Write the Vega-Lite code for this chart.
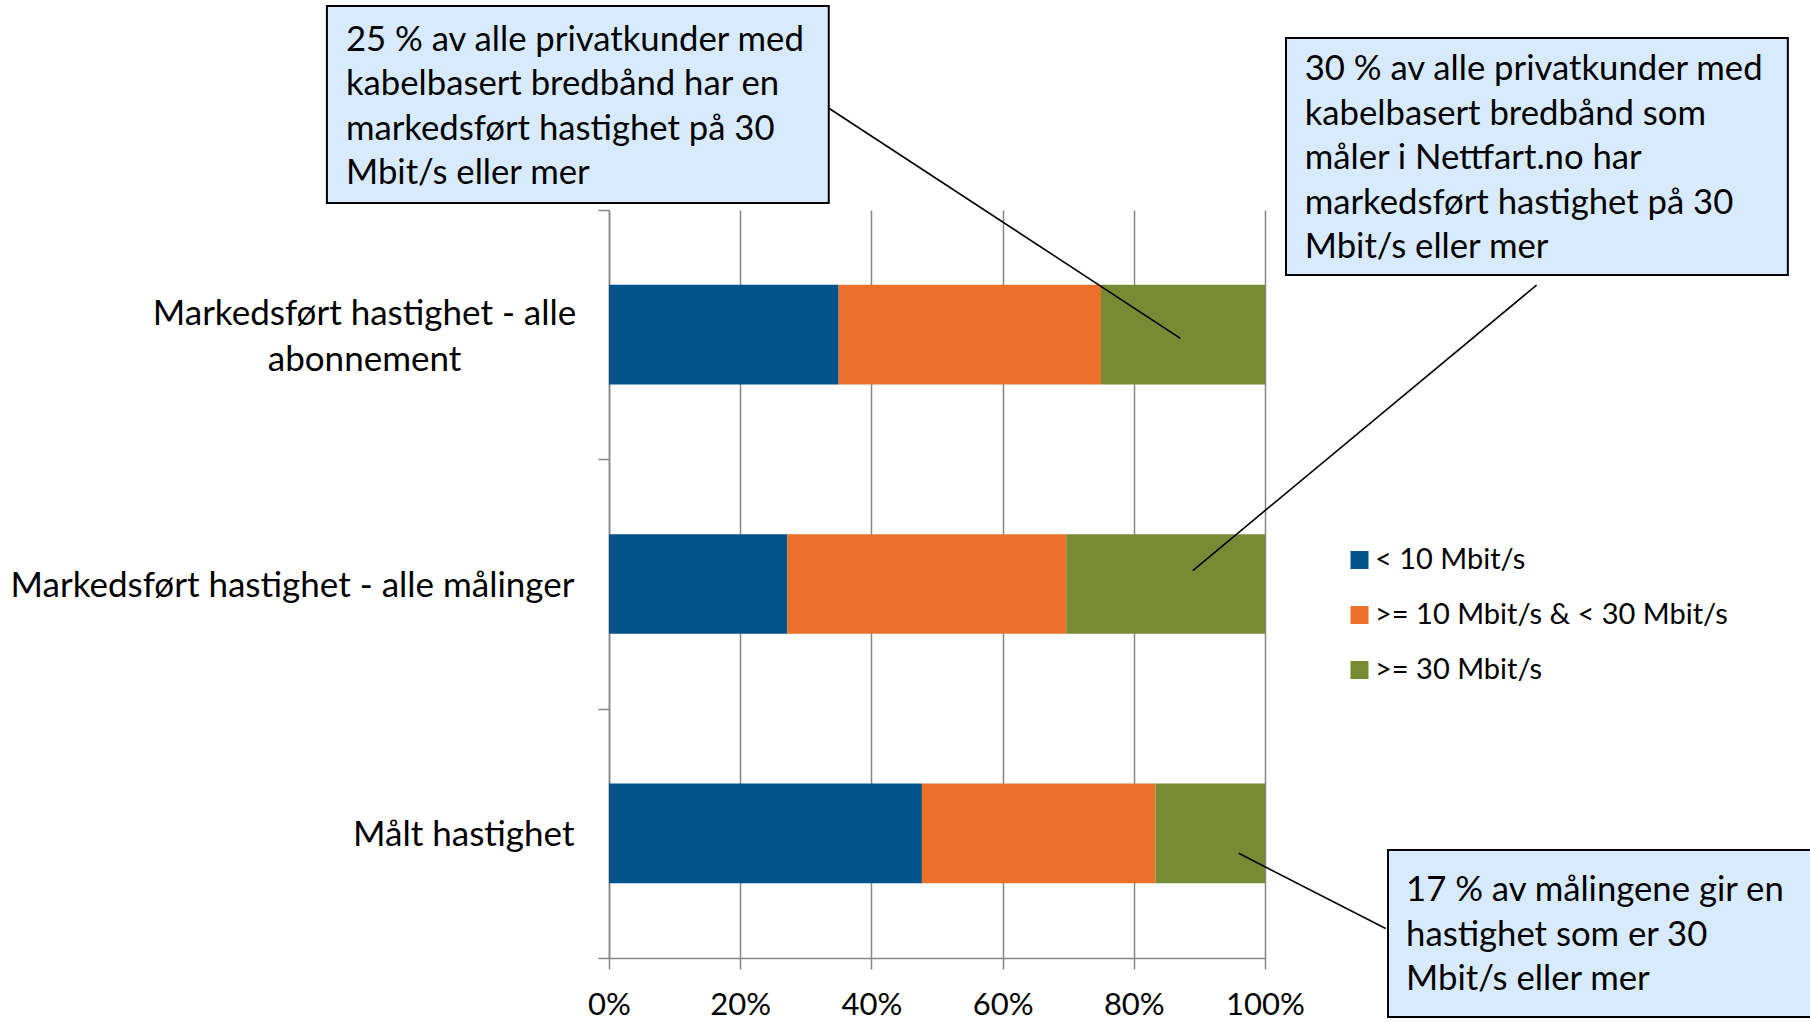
{
  "$schema": "https://vega.github.io/schema/vega-lite/v6.json",
  "width": 656,
  "height": 748,
  "autosize": {"type": "none"},
  "padding": {"left": 609, "top": 210, "right": 545, "bottom": 64},
  "background": "white",
  "config": {
    "view": {"stroke": null},
    "font": "Lato",
    "axis": {
      "labelFont": "Lato",
      "labelColor": "#000000",
      "labelFontSize": 35,
      "domainColor": "#868686",
      "domainWidth": 1.5,
      "tickColor": "#868686",
      "tickWidth": 1.5,
      "tickSize": 11
    },
    "text": {"font": "Lato"}
  },
  "datasets": {
    "bars": [
      {"kategori": "Markedsført hastighet - alle abonnement", "hastighet": "< 10 Mbit/s", "andel": 0.35},
      {"kategori": "Markedsført hastighet - alle abonnement", "hastighet": ">= 10 Mbit/s & < 30 Mbit/s", "andel": 0.40},
      {"kategori": "Markedsført hastighet - alle abonnement", "hastighet": ">= 30 Mbit/s", "andel": 0.25},
      {"kategori": "Markedsført hastighet - alle målinger", "hastighet": "< 10 Mbit/s", "andel": 0.272},
      {"kategori": "Markedsført hastighet - alle målinger", "hastighet": ">= 10 Mbit/s & < 30 Mbit/s", "andel": 0.425},
      {"kategori": "Markedsført hastighet - alle målinger", "hastighet": ">= 30 Mbit/s", "andel": 0.303},
      {"kategori": "Målt hastighet", "hastighet": "< 10 Mbit/s", "andel": 0.477},
      {"kategori": "Målt hastighet", "hastighet": ">= 10 Mbit/s & < 30 Mbit/s", "andel": 0.356},
      {"kategori": "Målt hastighet", "hastighet": ">= 30 Mbit/s", "andel": 0.167}
    ],
    "bokser": [
      {"boks": "a", "x0": -0.430, "x1": 0.335, "y0": -0.818, "y1": -0.028},
      {"boks": "b", "x0": 1.032, "x1": 1.797, "y0": -0.690, "y1": 0.261},
      {"boks": "c", "x0": 1.1875, "x1": 1.85, "y0": 2.567, "y1": 3.237}
    ],
    "tekster": [
      {"boks": "a", "x": -0.401, "y": -0.678, "tekst": "25 % av alle privatkunder med\nkabelbasert bredbånd har en\nmarkedsført hastighet på 30\nMbit/s eller mer"},
      {"boks": "b", "x": 1.0605, "y": -0.560, "tekst": "30 % av alle privatkunder med\nkabelbasert bredbånd som\nmåler i Nettfart.no har\nmarkedsført hastighet på 30\nMbit/s eller mer"},
      {"boks": "c", "x": 1.215, "y": 2.733, "tekst": "17 % av målingene gir en\nhastighet som er 30\nMbit/s eller mer"}
    ],
    "linjer": [
      {"boks": "a", "x0": 0.3317, "y0": -0.414, "x1": 0.871, "y1": 0.5146},
      {"boks": "b", "x0": 1.414, "y0": 0.301, "x1": 0.890, "y1": 1.446},
      {"boks": "c", "x0": 0.960, "y0": 2.580, "x1": 1.184, "y1": 2.882}
    ]
  },
  "layer": [
    {
      "data": {"name": "bars"},
      "mark": {"type": "bar"},
      "encoding": {
        "y": {
          "field": "kategori",
          "type": "nominal",
          "title": null,
          "sort": ["Markedsført hastighet - alle abonnement", "Markedsført hastighet - alle målinger", "Målt hastighet"],
          "scale": {"paddingInner": 0.6, "paddingOuter": 0.3},
          "axis": {
            "bandPosition": 2.5,
            "tickOffset": -74.8,
            "tickExtra": true,
            "labelExpr": "datum.value == 'Markedsført hastighet - alle abonnement' ? ['Markedsført hastighet - alle', 'abonnement'] : datum.value",
            "labelAlign": {"condition": {"test": "datum.value == 'Markedsført hastighet - alle abonnement'", "value": "center"}, "value": "right"},
            "labelPadding": {"condition": {"test": "datum.value == 'Markedsført hastighet - alle abonnement'", "value": 234}, "value": 24},
            "labelOffset": {"condition": {"test": "datum.value == 'Markedsført hastighet - alle abonnement'", "value": 53.8}, "value": 75.8},
            "labelLineHeight": 45.5,
            "labelLimit": 0,
            "labelBaseline": "middle"
          }
        },
        "x": {
          "field": "andel",
          "type": "quantitative",
          "stack": "zero",
          "title": null,
          "scale": {"domain": [0, 1], "nice": false, "zero": false},
          "axis": {
            "values": [0, 0.2, 0.4, 0.6, 0.8, 1],
            "format": ".0%",
            "grid": true,
            "gridColor": "#868686",
            "gridWidth": 1.5,
            "labelFontSize": 31,
            "labelPadding": 45,
            "labelBaseline": "alphabetic",
            "labelFlush": false,
            "labelOverlap": false
          }
        },
        "color": {
          "field": "hastighet",
          "type": "nominal",
          "sort": ["< 10 Mbit/s", ">= 10 Mbit/s & < 30 Mbit/s", ">= 30 Mbit/s"],
          "scale": {
            "domain": ["< 10 Mbit/s", ">= 10 Mbit/s & < 30 Mbit/s", ">= 30 Mbit/s"],
            "range": ["#02538A", "#EC7029", "#788B34"]
          },
          "legend": {
            "orient": "none",
            "legendX": 736,
            "legendY": 335.5,
            "title": null,
            "symbolType": "square",
            "symbolSize": 324,
            "symbolStrokeWidth": 0,
            "symbolOpacity": 1,
            "labelFont": "Lato",
            "labelFontSize": 29,
            "labelColor": "#000000",
            "labelOffset": 1,
            "labelLimit": 0,
            "rowPadding": 25,
            "padding": 0
          }
        }
      }
    },
    {
      "data": {"name": "linjer"},
      "mark": {"type": "rule", "color": "#000000", "strokeWidth": 1.6},
      "encoding": {
        "x": {"field": "x0", "type": "quantitative", "title": null, "scale": {"domain": [0, 1], "nice": false, "zero": false}},
        "x2": {"field": "x1"},
        "y": {"field": "y0", "type": "quantitative", "title": null, "axis": null, "scale": {"domain": [0, 3], "reverse": true, "nice": false, "zero": false}},
        "y2": {"field": "y1"}
      }
    },
    {
      "data": {"name": "bokser"},
      "mark": {"type": "rect", "fill": "#D8EBFE", "stroke": "#000000", "strokeWidth": 2},
      "encoding": {
        "x": {"field": "x0", "type": "quantitative", "title": null, "scale": {"domain": [0, 1], "nice": false, "zero": false}},
        "x2": {"field": "x1"},
        "y": {"field": "y0", "type": "quantitative", "title": null, "axis": null, "scale": {"domain": [0, 3], "reverse": true, "nice": false, "zero": false}},
        "y2": {"field": "y1"}
      }
    },
    {
      "data": {"name": "tekster"},
      "mark": {"type": "text", "align": "left", "baseline": "middle", "fontSize": 34.7, "lineHeight": 44.5, "lineBreak": "\n", "color": "#000000", "font": "Lato"},
      "encoding": {
        "x": {"field": "x", "type": "quantitative", "title": null, "scale": {"domain": [0, 1], "nice": false, "zero": false}},
        "y": {"field": "y", "type": "quantitative", "title": null, "axis": null, "scale": {"domain": [0, 3], "reverse": true, "nice": false, "zero": false}},
        "text": {"field": "tekst"}
      }
    }
  ],
  "resolve": {"scale": {"y": "independent"}, "axis": {"y": "independent"}}
}
